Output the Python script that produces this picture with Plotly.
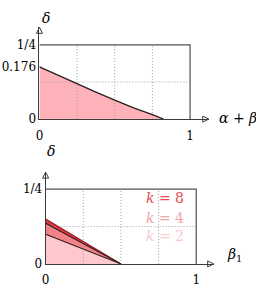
import plotly.graph_objects as go

# ---- data ----
top_x = [0, 0.125, 0.25, 0.375, 0.5, 0.625, 0.75, 0.824]
top_y = [0.176, 0.147, 0.120, 0.091, 0.064, 0.038, 0.015, 0.0]

k_labels = ["k = 8", "k = 4", "k = 2"]
k_values = [8, 4, 2]
k_intercepts = [0.150, 0.136, 0.099]
k_zero_x = [0.5, 0.5, 0.5]

grid_x = [0.25, 0.5, 0.75]
grid_y = [0.125]
box_top = 0.25
box_right = 1.0

top_yticks = [0, 0.176, 0.25]
top_yticktext = ["0", "0.176", "1/4"]
bot_yticks = [0, 0.25]
bot_yticktext = ["0", "1/4"]
xticks = [0, 1]
xticktext = ["0", "1"]

FONT = "DejaVu Serif"
fill_colors = {8: "rgb(225,55,65)", 4: "rgb(243,130,136)", 2: "rgb(255,200,205)"}
text_colors = {8: "rgb(228,75,85)", 4: "rgb(242,165,170)", 2: "rgb(248,205,208)"}

fig = go.Figure()

def add_grid(xa, ya):
    for gx in grid_x:
        fig.add_trace(go.Scatter(x=[gx, gx], y=[0, box_top], mode="lines",
                                 line=dict(color="rgb(160,160,160)", width=1, dash="1px,2px"),
                                 xaxis=xa, yaxis=ya, hoverinfo="skip", showlegend=False))
    for gy in grid_y:
        fig.add_trace(go.Scatter(x=[0, box_right], y=[gy, gy], mode="lines",
                                 line=dict(color="rgb(160,160,160)", width=1, dash="1px,2px"),
                                 xaxis=xa, yaxis=ya, hoverinfo="skip", showlegend=False))
    fig.add_trace(go.Scatter(x=[0, box_right, box_right], y=[box_top, box_top, 0], mode="lines",
                             line=dict(color="rgb(80,80,80)", width=1.2),
                             xaxis=xa, yaxis=ya, hoverinfo="skip", showlegend=False))

# top panel
fig.add_trace(go.Scatter(x=top_x + [0], y=top_y + [0], fill="toself",
                         fillcolor="rgb(255,178,186)", mode="none",
                         xaxis="x", yaxis="y", hoverinfo="skip", showlegend=False))
add_grid("x", "y")
fig.add_trace(go.Scatter(x=top_x, y=top_y, mode="lines",
                         line=dict(color="rgb(40,30,30)", width=1.2),
                         xaxis="x", yaxis="y", hoverinfo="skip", showlegend=False))

# bottom panel: draw largest first
for k, b, z in zip(k_values, k_intercepts, k_zero_x):
    fig.add_trace(go.Scatter(x=[0, 0, z], y=[0, b, 0], fill="toself",
                             fillcolor=fill_colors[k], mode="none",
                             xaxis="x2", yaxis="y2", hoverinfo="skip", showlegend=False))
add_grid("x2", "y2")
for k, b, z in zip(k_values, k_intercepts, k_zero_x):
    col = "rgb(150,20,30)" if k == 8 else "rgb(40,30,30)"
    fig.add_trace(go.Scatter(x=[0, z], y=[b, 0], mode="lines",
                             line=dict(color=col, width=1.1),
                             xaxis="x2", yaxis="y2", hoverinfo="skip", showlegend=False))

# axis arrowheads
for xa, ya, xr, yr in [("x", "y", 1.124, 0.309), ("x2", "y2", 1.116, 0.307)]:
    fig.add_trace(go.Scatter(x=[xr], y=[0], mode="markers",
                             marker=dict(symbol="arrow-right-open", size=6, color="rgb(60,60,60)",
                                         line=dict(width=1, color="rgb(60,60,60)")),
                             xaxis=xa, yaxis=ya, hoverinfo="skip", showlegend=False, cliponaxis=False))
    fig.add_trace(go.Scatter(x=[0], y=[yr], mode="markers",
                             marker=dict(symbol="arrow-up-open", size=6, color="rgb(60,60,60)",
                                         line=dict(width=1, color="rgb(60,60,60)")),
                             xaxis=xa, yaxis=ya, hoverinfo="skip", showlegend=False, cliponaxis=False))

axis_common = dict(showgrid=False, zeroline=False, showline=True, linecolor="rgb(60,60,60)",
                   linewidth=1, ticks="", tickfont=dict(family=FONT, size=12, color="black"),
                   fixedrange=True)

fig.update_layout(
    width=256, height=296, margin=dict(l=0, r=0, t=0, b=0),
    paper_bgcolor="white", plot_bgcolor="rgba(0,0,0,0)",
    font=dict(family=FONT),
    xaxis=dict(domain=[36/256, 208/256], range=[0, 1.124], anchor="y",
               tickvals=xticks, ticktext=xticktext, ticklabelstandoff=5, **axis_common),
    yaxis=dict(domain=[1-122/296, 1-28/296], range=[0, 0.309], anchor="x",
               tickvals=top_yticks, ticktext=top_yticktext, **axis_common),
    xaxis2=dict(domain=[42.3/256, 213/256], range=[0, 1.116], anchor="y2",
                tickvals=xticks, ticktext=xticktext, ticklabelstandoff=5, **axis_common),
    yaxis2=dict(domain=[1-270.3/296, 1-176.3/296], range=[0, 0.307], anchor="x2",
                tickvals=bot_yticks, ticktext=bot_yticktext, **axis_common),
)

ann = []
ann.append(dict(x=37/256, y=1-8/296, xref="paper", yref="paper", text="<i>δ</i>",
                showarrow=False, font=dict(family=FONT, size=14, color="black")))
ann.append(dict(x=216/256, y=1-122/296, xref="paper", yref="paper", text="<i>α</i> + <i>β</i><sub>1</sub>",
                showarrow=False, xanchor="left", font=dict(family=FONT, size=14, color="black")))
ann.append(dict(x=42/256, y=1-155/296, xref="paper", yref="paper", text="<i>δ</i>",
                showarrow=False, font=dict(family=FONT, size=14, color="black")))
ann.append(dict(x=225/256, y=1-272/296, xref="paper", yref="paper", text="<i>β</i><sub>1</sub>",
                showarrow=False, xanchor="left", font=dict(family=FONT, size=14, color="black")))
label_y = [0.220, 0.154, 0.092]
for k, txt, ly in zip(k_values, k_labels, label_y):
    ann.append(dict(x=0.93, y=ly, xref="x2", yref="y2", text="<i>k</i> = %d" % k,
                    showarrow=False, xanchor="right",
                    font=dict(family=FONT, size=14, color=text_colors[k])))
fig.update_layout(annotations=ann)

fig.write_html("out.html")
